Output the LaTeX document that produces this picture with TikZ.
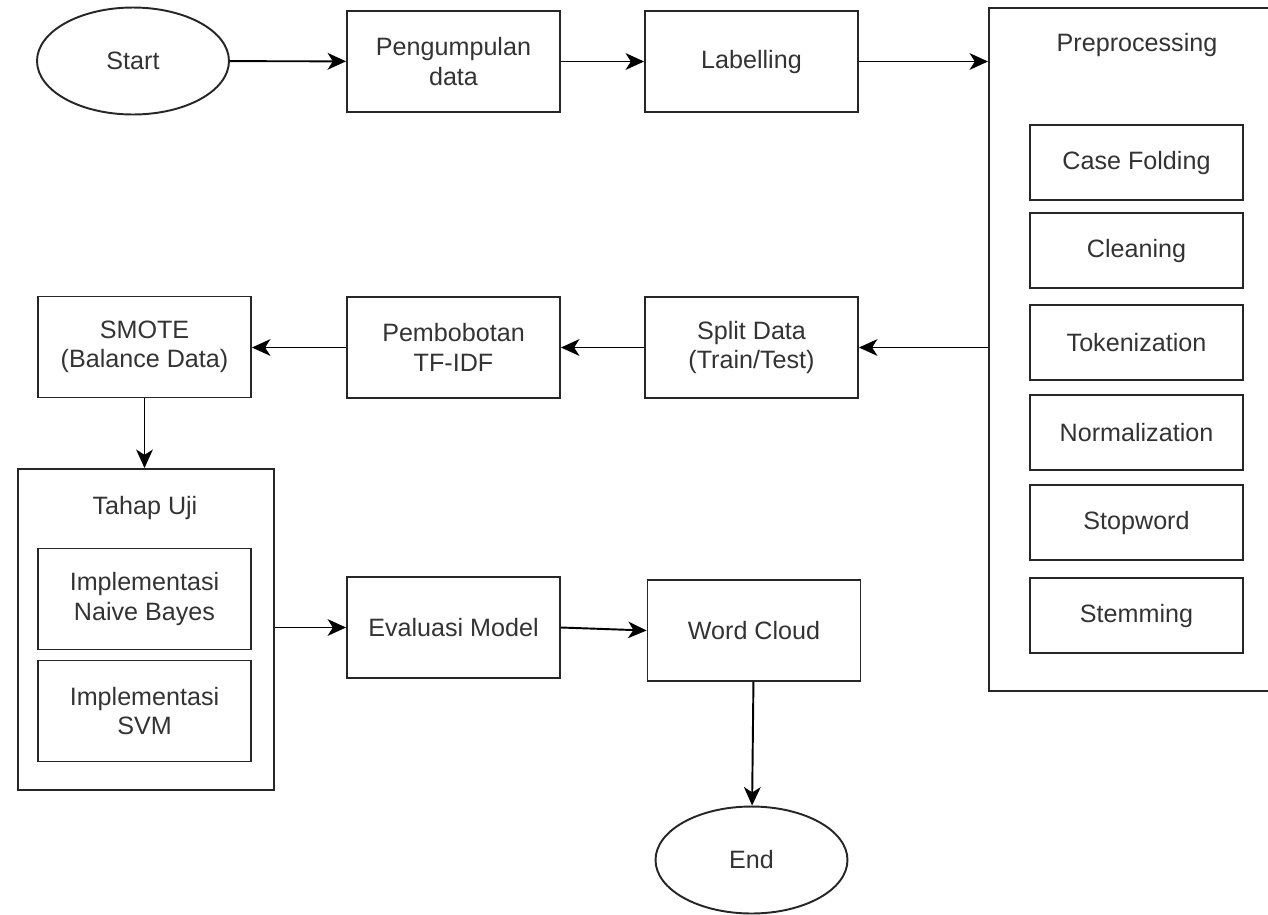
\documentclass[tikz,border=0pt]{standalone}
\usepackage{fontspec}
\setmainfont{Liberation Sans}
\usetikzlibrary{arrows.meta,shapes.geometric}
\begin{document}
\begin{tikzpicture}[x=0.02cm,y=-0.02cm,
  base/.style={draw=black!85, line width=1.1pt, inner sep=0pt, font=\fontsize{14.3}{16.8}\selectfont, text=black!80, align=center},
  box/.style={base, rectangle, minimum width=4.26cm, minimum height=2.02cm},
  sub/.style={base, rectangle, minimum width=4.26cm, minimum height=1.5cm},
  oval/.style={base, ellipse, minimum width=3.84cm, minimum height=2.14cm},
  arr/.style={draw=black, line width=1.1pt, -{Stealth[length=10.5pt,width=9.5pt,inset=3pt]}}]
\useasboundingbox (0,0) rectangle (1268,914);

% top row
\node[oval] (start) at (133,61) {Start};
\node[box] (peng) at (453.5,61.5) {Pengumpulan\\data};
\node[box] (lab) at (751.5,61.5) {Labelling};

% preprocessing group
\node[base, rectangle, minimum width=5.6cm, minimum height=13.66cm, anchor=north west] (pre) at (988,7) {};
\node[base, draw=none] (pretitle) at (1137,45) {Preprocessing};
\node[sub] (cf) at (1136.5,162.5) {Case Folding};
\node[sub] (cl) at (1136.5,250.5) {Cleaning};
\node[sub] (tok) at (1136.5,342.5) {Tokenization};
\node[sub] (norm) at (1136.5,432.5) {Normalization};
\node[sub] (stop) at (1136.5,522.5) {Stopword};
\node[sub] (stem) at (1136.5,615.5) {Stemming};

% middle row
\node[box] (split) at (751.5,347.5) {Split Data\\(Train/Test)};
\node[box] (tfidf) at (453.5,347.5) {Pembobotan\\TF-IDF};
\node[box] (smote) at (144.5,347) {SMOTE\\(Balance Data)};

% Tahap Uji group
\node[base, rectangle, minimum width=5.12cm, minimum height=6.42cm, anchor=north west] (uji) at (17,468) {};
\node[base, draw=none] (ujititle) at (145,508) {Tahap Uji};
\node[box] (nb) at (144.5,599) {Implementasi\\Naive Bayes};
\node[box] (svm) at (144.5,711) {Implementasi\\SVM};

% bottom row
\node[box] (eval) at (453.5,627.5) {Evaluasi Model};
\node[box] (wc) at (754,630.5) {Word Cloud};
\node[oval] (end) at (751.5,860) {End};

% connectors
\draw[arr] (start) -- (peng);
\draw[arr] (peng.east) -- (lab.west |- peng.east);
\draw[arr] (lab.east) -- (lab.east -| pre.west);
\draw[arr] (pre.west |- split.east) -- (split.east);
\draw[arr] (split) -- (tfidf);
\draw[arr] (tfidf.west) -- (smote.east |- tfidf.west);
\draw[arr] (smote) -- (smote |- uji.north);
\draw[arr] (uji.east |- eval.west) -- (eval.west);
\draw[arr] (eval.east) -- (wc.west);
\draw[arr] (wc) -- (end);
\end{tikzpicture}
\end{document}
